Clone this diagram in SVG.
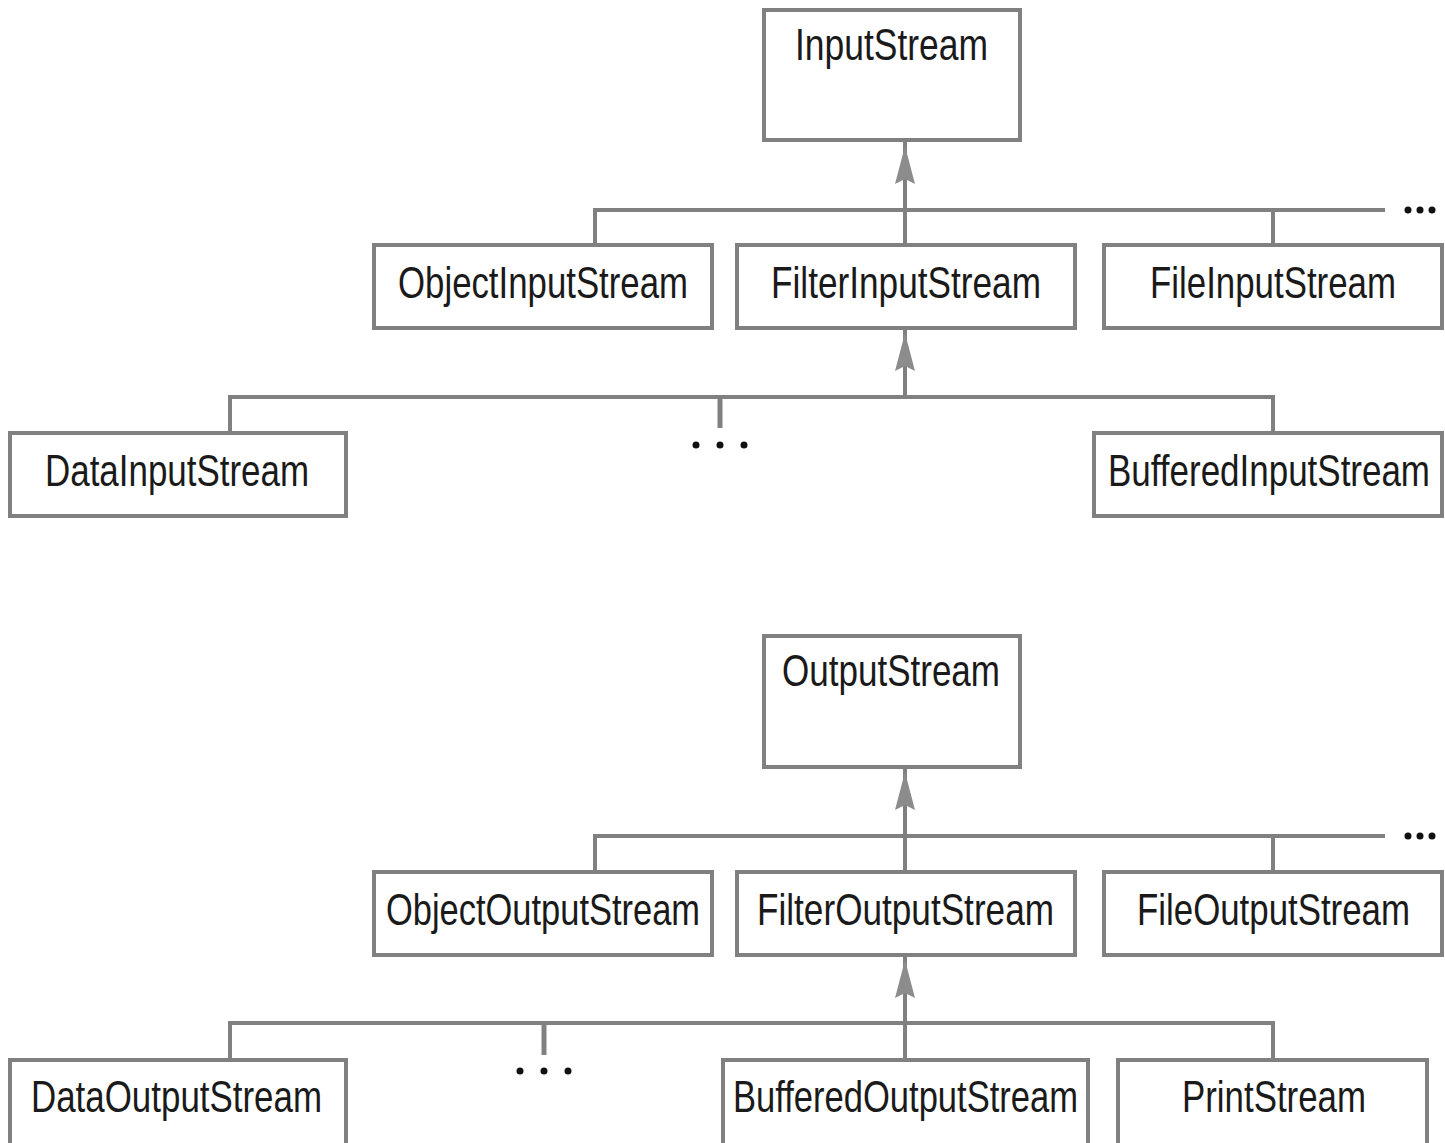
<svg xmlns="http://www.w3.org/2000/svg" width="1445" height="1143" viewBox="0 0 1445 1143">
<style>
.box{fill:#fff;stroke:#808080;stroke-width:4}
.ln{fill:none;stroke:#808080;stroke-width:4}
.t{font-family:"Liberation Sans",Arial,sans-serif;font-size:44px;fill:#1a1a1a}
.dot{fill:#111}
.hd{fill:#8c8c8c}
</style>
<defs>
<path id="arw" d="M0,0 L-10,38 L0,33 L10,38 Z"/>
</defs>
<rect width="1445" height="1143" fill="#fff"/>
<g id="connectors">
<line class="ln" x1="905" y1="142" x2="905" y2="245"/>
<polyline class="ln" points="595,245 595,210 1385,210"/>
<line class="ln" x1="1273" y1="210" x2="1273" y2="245"/>
<use href="#arw" x="905" y="146" class="hd"/>
<g class="dot"><circle cx="1408" cy="210" r="3.5"/><circle cx="1420" cy="210" r="3.5"/><circle cx="1432" cy="210" r="3.5"/></g>
<line class="ln" x1="905" y1="330" x2="905" y2="397"/>
<polyline class="ln" points="230,433 230,397 1273,397 1273,433"/>
<line x1="720" y1="397" x2="720" y2="428" stroke="#808080" stroke-width="5"/>
<use href="#arw" x="905" y="333" class="hd"/>
<g class="dot"><circle cx="696" cy="445" r="3.5"/><circle cx="720" cy="445" r="3.5"/><circle cx="744" cy="445" r="3.5"/></g>
<line class="ln" x1="905" y1="769" x2="905" y2="872"/>
<polyline class="ln" points="595,872 595,836 1385,836"/>
<line class="ln" x1="1273" y1="836" x2="1273" y2="872"/>
<use href="#arw" x="905" y="772" class="hd"/>
<g class="dot"><circle cx="1408" cy="836" r="3.5"/><circle cx="1420" cy="836" r="3.5"/><circle cx="1432" cy="836" r="3.5"/></g>
<line class="ln" x1="905" y1="957" x2="905" y2="1060"/>
<polyline class="ln" points="230,1060 230,1023 1273,1023 1273,1060"/>
<line x1="544" y1="1023" x2="544" y2="1055" stroke="#808080" stroke-width="5"/>
<use href="#arw" x="905" y="960" class="hd"/>
<g class="dot"><circle cx="520" cy="1071" r="3.5"/><circle cx="544" cy="1071" r="3.5"/><circle cx="568" cy="1071" r="3.5"/></g>
</g>
<g id="InputStream"><rect class="box" x="764" y="10" width="256" height="130"/><text class="t" x="795" y="60" textLength="193" lengthAdjust="spacingAndGlyphs">InputStream</text></g>
<g id="ObjectInputStream"><rect class="box" x="374" y="245" width="338" height="83"/><text class="t" x="398" y="298" textLength="290" lengthAdjust="spacingAndGlyphs">ObjectInputStream</text></g>
<g id="FilterInputStream"><rect class="box" x="737" y="245" width="338" height="83"/><text class="t" x="771" y="298" textLength="270" lengthAdjust="spacingAndGlyphs">FilterInputStream</text></g>
<g id="FileInputStream"><rect class="box" x="1104" y="245" width="338" height="83"/><text class="t" x="1150" y="298" textLength="246" lengthAdjust="spacingAndGlyphs">FileInputStream</text></g>
<g id="DataInputStream"><rect class="box" x="10" y="433" width="336" height="83"/><text class="t" x="45" y="486" textLength="264" lengthAdjust="spacingAndGlyphs">DataInputStream</text></g>
<g id="BufferedInputStream"><rect class="box" x="1094" y="433" width="348" height="83"/><text class="t" x="1108" y="486" textLength="322" lengthAdjust="spacingAndGlyphs">BufferedInputStream</text></g>
<g id="OutputStream"><rect class="box" x="764" y="636" width="256" height="131"/><text class="t" x="782" y="686" textLength="218" lengthAdjust="spacingAndGlyphs">OutputStream</text></g>
<g id="ObjectOutputStream"><rect class="box" x="374" y="872" width="338" height="83"/><text class="t" x="386" y="925" textLength="314" lengthAdjust="spacingAndGlyphs">ObjectOutputStream</text></g>
<g id="FilterOutputStream"><rect class="box" x="737" y="872" width="338" height="83"/><text class="t" x="757" y="925" textLength="297" lengthAdjust="spacingAndGlyphs">FilterOutputStream</text></g>
<g id="FileOutputStream"><rect class="box" x="1104" y="872" width="338" height="83"/><text class="t" x="1137" y="925" textLength="273" lengthAdjust="spacingAndGlyphs">FileOutputStream</text></g>
<g id="DataOutputStream"><rect class="box" x="10" y="1060" width="336" height="85"/><text class="t" x="31" y="1112" textLength="291" lengthAdjust="spacingAndGlyphs">DataOutputStream</text></g>
<g id="BufferedOutputStream"><rect class="box" x="723" y="1060" width="365" height="85"/><text class="t" x="733" y="1112" textLength="345" lengthAdjust="spacingAndGlyphs">BufferedOutputStream</text></g>
<g id="PrintStream"><rect class="box" x="1118" y="1060" width="309" height="85"/><text class="t" x="1182" y="1112" textLength="184" lengthAdjust="spacingAndGlyphs">PrintStream</text></g>
</svg>
